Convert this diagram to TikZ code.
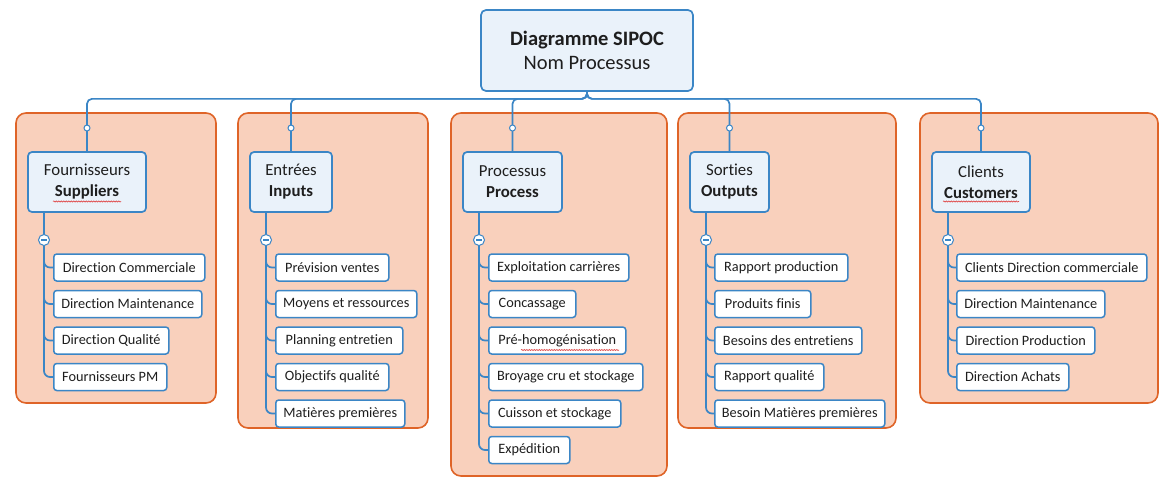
\documentclass[tikz,border=0pt]{standalone}
\usepackage{fontspec}
\setmainfont{Carlito}[Ligatures={NoCommon}]
\usetikzlibrary{calc,decorations.pathmorphing}
\definecolor{bord}{HTML}{3B86C6}
\definecolor{catfill}{HTML}{EAF2FA}
\definecolor{grpfill}{HTML}{F9D0BC}
\definecolor{grpline}{HTML}{DF6428}
\definecolor{squig}{HTML}{E04848}
\definecolor{txt}{HTML}{1E1E1E}
\begin{document}
\begin{tikzpicture}[x=1pt,y=-1pt,
 grp/.style={draw=grpline, fill=grpfill, line width=1.6pt, rounded corners=10pt},
 rootbox/.style={draw=bord, fill=catfill, line width=1.7pt, rounded corners=5pt, minimum width=212pt, minimum height=81pt, align=center, font=\fontsize{20.5}{24}\selectfont, inner sep=0, text=txt},
 cat/.style={draw=bord, fill=catfill, line width=1.7pt, rounded corners=4pt, minimum height=60pt, align=center, font=\fontsize{16.8}{21}\selectfont, inner sep=0, text=txt},
 item/.style={draw=bord, fill=white, line width=1.5pt, rounded corners=3pt, minimum height=27pt, anchor=west, inner sep=0, font=\fontsize{14.3}{16}\selectfont, text=txt},
 conn/.style={draw=bord, line width=1.7pt},
 dot/.style={circle, draw=bord, fill=white, line width=1pt, minimum size=6pt, inner sep=0},
 minus/.style={circle, draw=bord, fill=white, line width=1pt, minimum size=11pt, inner sep=0,
   path picture={\draw[bord, line width=1.2pt] ($(path picture bounding box.center)+(-3pt,0)$) -- ++(6pt,0);}},
 squig/.style={draw=squig, line width=0.6pt, decorate, decoration={snake, amplitude=0.6pt, segment length=2.5pt}},
]
\useasboundingbox (0,0) rectangle (1171,485);

% group backgrounds
\draw[grp] (16,113) rectangle (216,403);
\draw[grp] (238,113) rectangle (428,428);
\draw[grp] (451,113) rectangle (667,476);
\draw[grp] (678,113) rectangle (896,428);
\draw[grp] (920,113) rectangle (1158,403);

% root
\node[rootbox] (root) at (587,50.5) {\textbf{Diagramme SIPOC}\\Nom Processus};

% categories
\node[cat, minimum width=118pt] (c1) at (87,182) {Fournisseurs\\\textbf{Suppliers}};
\node[cat, minimum width=82pt] (c2) at (291,182) {Entrées\\\textbf{Inputs}};
\node[cat, minimum width=99pt] (c3) at (512.5,182) {Processus\\\textbf{Process}};
\node[cat, minimum width=79pt] (c4) at (729.5,182) {Sorties\\\textbf{Outputs}};
\node[cat, minimum width=98pt] (c5) at (981,182) {Clients\\\textbf{Customers}};

% top connectors
\foreach \c in {c1,c2,c3,c4,c5}{
  \draw[conn, rounded corners=5pt] (root.south) -- ++(0,7) -| (\c.north);
}
\coordinate (yd) at (0,128);
\foreach \c in {c1,c2,c3,c4,c5}{
  \node[dot] at (\c.north |- yd) {};
}

% items group 1
\node[item, minimum width=151pt] (a1) at (53,267.5) {Direction Commerciale};
\node[item, minimum width=148pt] (a2) at (53,304) {Direction Maintenance};
\node[item, minimum width=115pt] (a3) at (53,340.5) {Direction Qualité};
\node[item, minimum width=113pt] (a4) at (53,377) {Fournisseurs PM};
% group 2
\node[item, minimum width=113pt] (b1) at (275,267.5) {Prévision ventes};
\node[item, minimum width=141pt] (b2) at (275,304) {Moyens et ressources};
\node[item, minimum width=127pt] (b3) at (275,340.5) {Planning entretien};
\node[item, minimum width=113pt] (b4) at (275,377) {Objectifs qualité};
\node[item, minimum width=129pt] (b5) at (275,413.5) {Matières premières};
% group 3
\node[item, minimum width=140pt] (p1) at (488,267.5) {Exploitation carrières};
\node[item, minimum width=87pt] (p2) at (488,304) {Concassage};
\node[item, minimum width=137pt] (p3) at (488,340.5) {Pré-homogénisation};
\node[item, minimum width=154pt] (p4) at (488,377) {Broyage cru et stockage};
\node[item, minimum width=132pt] (p5) at (488,413.5) {Cuisson et stockage};
\node[item, minimum width=81pt] (p6) at (488,450) {Expédition};
% group 4
\node[item, minimum width=133pt] (o1) at (714,267.5) {Rapport production};
\node[item, minimum width=96pt] (o2) at (714,304) {Produits finis};
\node[item, minimum width=147pt] (o3) at (714,340.5) {Besoins des entretiens};
\node[item, minimum width=109pt] (o4) at (714,377) {Rapport qualité};
\node[item, minimum width=170pt] (o5) at (714,413.5) {Besoin Matières premières};
% group 5
\node[item, minimum width=190pt] (e1) at (956,267.5) {Clients Direction commerciale};
\node[item, minimum width=148pt] (e2) at (956,304) {Direction Maintenance};
\node[item, minimum width=138pt] (e3) at (956,340.5) {Direction Production};
\node[item, minimum width=112pt] (e4) at (956,377) {Direction Achats};

% spines
\coordinate (s1) at (44,212);
\coordinate (s2) at (266,212);
\coordinate (s3) at (479,212);
\coordinate (s4) at (706,212);
\coordinate (s5) at (948,212);

\draw[conn, rounded corners=6pt] (s1) |- (a4.west);
\foreach \n in {a1,a2,a3}{ \draw[conn, rounded corners=6pt] (s1 |- \n.west) ++(0,-10) |- (\n.west); }
\draw[conn, rounded corners=6pt] (s2) |- (b5.west);
\foreach \n in {b1,b2,b3,b4}{ \draw[conn, rounded corners=6pt] (s2 |- \n.west) ++(0,-10) |- (\n.west); }
\draw[conn, rounded corners=6pt] (s3) |- (p6.west);
\foreach \n in {p1,p2,p3,p4,p5}{ \draw[conn, rounded corners=6pt] (s3 |- \n.west) ++(0,-10) |- (\n.west); }
\draw[conn, rounded corners=6pt] (s4) |- (o5.west);
\foreach \n in {o1,o2,o3,o4}{ \draw[conn, rounded corners=6pt] (s4 |- \n.west) ++(0,-10) |- (\n.west); }
\draw[conn, rounded corners=6pt] (s5) |- (e4.west);
\foreach \n in {e1,e2,e3}{ \draw[conn, rounded corners=6pt] (s5 |- \n.west) ++(0,-10) |- (\n.west); }

% collapse markers
\coordinate (ym) at (0,240);
\foreach \s in {s1,s2,s3,s4,s5}{ \node[minus] at (\s |- ym) {}; }

% spell-check underlines
\draw[squig] ($(c1.center)+(-34,19.5)$) -- ++(68,0);
\draw[squig] ($(c5.center)+(-38,19.5)$) -- ++(76,0);
\draw[squig] ($(p3.west)+(33,9.5)$) -- ++(98,0);
\end{tikzpicture}
\end{document}
